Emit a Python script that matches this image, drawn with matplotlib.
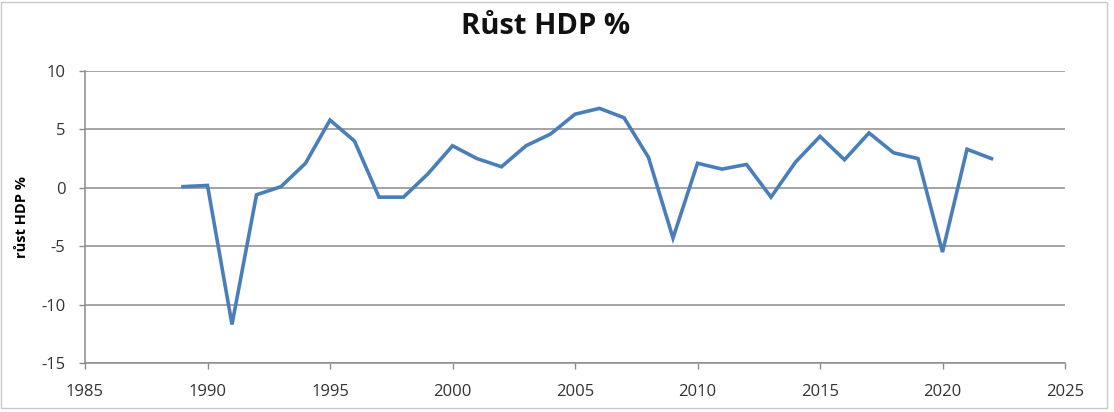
import matplotlib
matplotlib.use("Agg")
import matplotlib.pyplot as plt
from matplotlib.patches import Rectangle

years = list(range(1989, 2023))
growth = [0.1, 0.2, -11.7, -0.6, 0.1, 2.1, 5.8, 4.0, -0.8, -0.8,
          1.2, 3.6, 2.5, 1.8, 3.6, 4.6, 6.3, 6.8, 6.0, 2.6,
          -4.3, 2.1, 1.6, 2.0, -0.8, 2.2, 4.4, 2.4, 4.7, 3.0,
          2.5, -5.5, 3.3, 2.5]
xticks = [1985, 1990, 1995, 2000, 2005, 2010, 2015, 2020, 2025]
yticks = [-15, -10, -5, 0, 5, 10]

LINE, GRID, AX = "#4a7ebb", "#8c8c8c", "#8c8c8c"
plt.rcParams["font.family"] = ["Open Sans", "DejaVu Sans"]
plt.rcParams["axes.unicode_minus"] = False

fig = plt.figure(figsize=(11.14, 4.12), dpi=100)
ax = fig.add_axes([85 / 1114, 1 - 363 / 412, (1065 - 85) / 1114, (363 - 71) / 412])

ax.plot(years, growth, color=LINE, lw=2.6, solid_joinstyle="miter")
ax.set_xlim(1985, 2025)
ax.set_ylim(-15, 10)
ax.set_xticks(xticks)
ax.set_yticks(yticks)
ax.grid(axis="y", color=GRID, lw=1.1)
ax.set_axisbelow(True)
for s in ["top", "right"]:
    ax.spines[s].set_visible(False)
for s in ["left", "bottom"]:
    ax.spines[s].set_color(AX)
    ax.spines[s].set_linewidth(1.1)
ax.tick_params(colors=AX, labelcolor="#333333", labelsize=12, length=4, width=1)
ax.tick_params(axis="x", pad=11)
ax.tick_params(axis="y", pad=10)
ax.set_ylabel("růst HDP %", fontsize=10.5, fontweight="bold", labelpad=9)

fig.text(546 / 1114, 1 - 26 / 412, "Růst HDP %", ha="center", va="center",
         fontsize=21, fontweight="bold", color="#111111")
fig.patches.append(Rectangle((1 / 1114, 0.01), 1106 / 1114, 0.985, transform=fig.transFigure,
                             fill=False, ec="#c8c8c8", lw=1))

fig.savefig("out.png", dpi=100)
